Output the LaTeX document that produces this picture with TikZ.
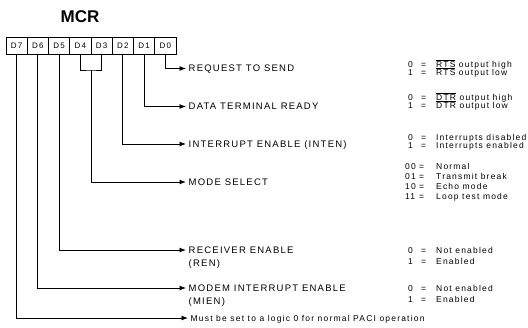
\documentclass[tikz,border=0pt]{standalone}
\usepackage{fontspec}
\setmainfont{Liberation Sans}
\newfontfamily\capsfont[LetterSpace=13]{Liberation Sans}
\newfontfamily\valfont[LetterSpace=14]{Liberation Sans}
\usepackage{tikz}
\usetikzlibrary{positioning,calc,arrows.meta}
\newcommand{\ovl}[1]{$\overline{\hbox{#1}}$}
\tikzset{
  >={Latex[length=6.5pt,width=5pt]},
  wire/.style={line width=0.9pt},
  bit/.style={draw=black,thick,outer sep=0pt,inner sep=0pt,
    minimum width=21.25pt,minimum height=17pt,
    font=\capsfont\fontsize{8}{8}\selectfont},
  field/.style={anchor=west,inner xsep=2.5pt,inner ysep=0pt,
    text height=6.8pt,text depth=0pt,
    font=\capsfont\fontsize{9.5}{10}\selectfont},
  valnode/.style={anchor=west,inner sep=0pt,
    text height=6.1pt,text depth=0pt,
    font=\valfont\fontsize{8.5}{9}\selectfont},
  paci/.style={field,text height=6.1pt,font=\valfont\fontsize{8.5}{9}\selectfont}
}
\begin{document}
\begin{tikzpicture}[x=1pt,y=-1pt]
  \useasboundingbox (0,0) rectangle (528,327);

  \node[font=\bfseries\fontsize{17}{17}\selectfont] (mcr) at (80,16.5) {MCR};

  \node[bit] (d7) at (16.6,45.5) {D7};
  \node[bit,right=0pt of d7] (d6) {D6};
  \node[bit,right=0pt of d6] (d5) {D5};
  \node[bit,right=0pt of d5] (d4) {D4};
  \node[bit,right=0pt of d4] (d3) {D3};
  \node[bit,right=0pt of d3] (d2) {D2};
  \node[bit,right=0pt of d2] (d1) {D1};
  \node[bit,right=0pt of d1] (d0) {D0};

  \node[field] (rts) at (186,68.5) {REQUEST TO SEND};
  \node[field] (dtr) at (186,106.5) {DATA TERMINAL READY};
  \node[field] (inten) at (186,144) {INTERRUPT ENABLE (INTEN)};
  \node[field] (mode) at (186,182) {MODE SELECT};
  \node[field] (ren) at (186,250) {RECEIVER ENABLE};
  \node[field,below right=5.5pt and 0pt of ren.south west] (renb) {(REN)};
  \node[field] (mien) at (186,288) {MODEM INTERRUPT ENABLE};
  \node[field,below right=5.5pt and 0pt of mien.south west] (mienb) {(MIEN)};
  \node[paci] (must) at (188,318) {Must be set to a logic 0 for normal PACI operation};

  \coordinate (ms) at ($(d4.south)!0.5!(d3.south)+(0,16)$);

  \draw[wire,->] (d0.south) |- (rts.west);
  \draw[wire,->] (d1.south) |- (dtr.west);
  \draw[wire,->] (d2.south) |- (inten.west);
  \draw[wire] (d4.south) |- (ms) -| (d3.south);
  \draw[wire,->] (ms) |- (mode.west);
  \draw[wire,->] (d5.south) |- (ren.west);
  \draw[wire,->] (d6.south) |- (mien.west);
  \draw[wire,->] (d7.south) |- (must.west);

  % y / key / key x / '=' x / text
  \foreach \vy/\vk/\vx/\ve/\vt [count=\n] in {
      64/0/408/421/{\ovl{RTS} output high},
      72/1/408/421/{\ovl{RTS} output low},
      97/0/408/421/{\ovl{DTR} output high},
      105/1/408/421/{\ovl{DTR} output low},
      137/0/408/421/{Interrupts disabled},
      145/1/408/421/{Interrupts enabled},
      166/00/405/419/{Normal},
      176/01/405/419/{Transmit break},
      186/10/405/419/{Echo mode},
      196/11/405/419/{Loop test mode},
      250/0/408/421/{Not enabled},
      261/1/408/421/{Enabled},
      288/0/408/421/{Not enabled},
      299/1/408/421/{Enabled}}{
    \node[valnode] (k\n) at (\vx,\vy) {\vk};
    \node[valnode] (e\n) at (\ve,\vy) {=};
    \node[valnode] (v\n) at (436,\vy) {\vt};
  }

\end{tikzpicture}
\end{document}
